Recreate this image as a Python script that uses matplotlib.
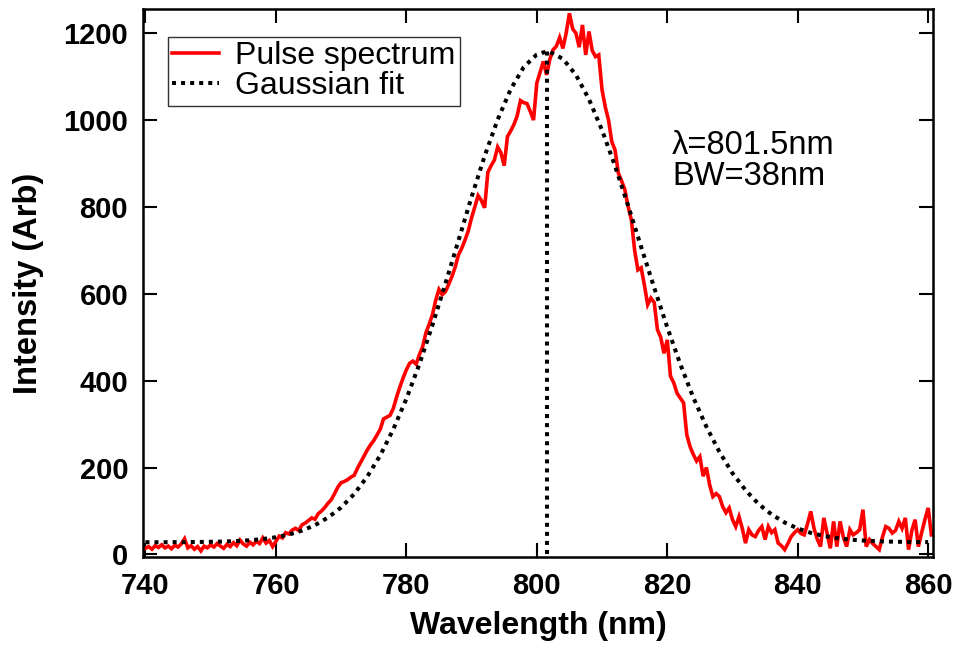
import numpy as np
import matplotlib
matplotlib.use("Agg")
import matplotlib.pyplot as plt

# ---------------- data ----------------
wl_start = 740.0
wl_step = 0.5
pulse_intensity = [
    14, 18, 12, 20, 16, 22, 15, 19, 13, 21, 17, 24, 36, 15, 20, 12, 18, 8, 19, 15,
    22, 17, 25, 19, 14, 23, 18, 27, 20, 33, 24, 19, 28, 22, 30, 25, 38, 26, 32, 18,
    30, 42, 38, 50, 47, 56, 60, 55, 68, 72, 78, 84, 81, 94, 100, 108, 118, 126, 140, 155,
    165, 168, 172, 178, 182, 198, 212, 226, 240, 252, 262, 275, 288, 312, 316, 320, 336, 362, 385, 406,
    425, 440, 445, 438, 460, 478, 510, 530, 552, 585, 610, 598, 605, 622, 640, 662, 690, 705, 724, 745,
    775, 800, 826, 815, 798, 880, 895, 908, 938, 925, 895, 962, 975, 990, 1010, 1045, 1040, 1038, 1020, 1000,
    1085, 1110, 1135, 1104, 1140, 1162, 1170, 1190, 1165, 1200, 1246, 1210, 1200, 1168, 1219, 1150, 1204, 1160, 1146, 1150,
    1070, 1030, 1000, 950, 931, 878, 860, 840, 801, 770, 700, 655, 660, 620, 575, 590, 580, 517, 500, 463,
    494, 410, 395, 371, 360, 349, 275, 248, 230, 215, 225, 180, 200, 160, 133, 140, 133, 110, 96, 107,
    80, 64, 87, 60, 26, 57, 45, 41, 55, 64, 34, 64, 50, 57, 26, 20, 11, 25, 41, 50,
    57, 48, 45, 70, 99, 60, 35, 18, 84, 49, 14, 76, 18, 76, 40, 18, 57, 45, 50, 57,
    103, 18, 34, 25, 18, 11, 40, 64, 60, 49, 55, 76, 60, 84, 11, 55, 80, 18, 50, 80,
    107, 45,
]
pulse_wavelength = wl_start + wl_step * np.arange(len(pulse_intensity))

fit_wavelength = [740, 742, 744, 746, 748, 750, 752, 754, 756, 758, 760, 762, 764, 766, 768,
                  770, 772, 774, 776, 778, 780, 782, 784, 786, 788, 790, 792, 794, 796, 798,
                  800, 801.5, 802, 804, 806, 808, 810, 812, 814, 816, 818, 820, 822, 824, 826,
                  828, 830, 832, 834, 836, 838, 840, 842, 844, 846, 848, 850, 852, 854, 856,
                  858, 860]
fit_intensity = [28, 28, 28.2, 28.3, 28.6, 29.0, 29.6, 30.8, 32.6, 35.3, 39.5, 45.7, 54.7, 67.4, 84.9,
                 108, 139, 179, 228, 288, 358, 438, 528, 624, 723, 823, 917, 1001, 1071, 1122,
                 1151, 1158, 1157, 1141, 1104, 1048, 977, 894, 803, 708, 614, 523, 438, 361, 294,
                 236, 187, 148, 116, 92, 73.5, 59.7, 49.6, 42.5, 37.5, 34.1, 31.9, 30.4, 29.5, 28.9,
                 28.5, 28.3]

center_wl = 801.5
peak_val = 1158
annotation = "λ=801.5nm\nBW=38nm"
x_ticks = [740, 760, 780, 800, 820, 840, 860]
y_ticks = [0, 200, 400, 600, 800, 1000, 1200]

# ---------------- plot ----------------
plt.rcParams['font.family'] = ['Liberation Sans', 'DejaVu Sans']

fig = plt.figure(figsize=(9.59, 6.47), dpi=100)
ax = fig.add_axes([0.1496, 0.1391, 0.8230, 0.8465])

ax.plot(pulse_wavelength, pulse_intensity, color='#ff0000', lw=2.6, label='Pulse spectrum',
        solid_joinstyle='miter')
ax.plot(fit_wavelength, fit_intensity, color='black', lw=2.9, linestyle=(0, (1, 1.25)),
        label='Gaussian fit')
ax.vlines(center_wl, 0, peak_val, color='black', lw=2.9, linestyle=(0, (1, 1.25)))

ax.set_xlim(739.7, 860.7)
ax.set_ylim(-6, 1255)
ax.set_xticks(x_ticks)
ax.set_yticks(y_ticks)
ax.tick_params(direction='in', length=10, width=1.5, top=True, right=True,
               labelsize=21, pad=11)
for lab in ax.get_xticklabels() + ax.get_yticklabels():
    lab.set_fontweight('bold')
for sp in ax.spines.values():
    sp.set_linewidth(1.8)

ax.set_xlabel('Wavelength (nm)', fontsize=23, fontweight='bold', labelpad=8)
ax.set_ylabel('Intensity (Arb)', fontsize=23.5, fontweight='bold', labelpad=14)

ax.text(820.75, 976, annotation, fontsize=23.5, va='top', ha='left', linespacing=1.0)

leg = ax.legend(loc='upper left', bbox_to_anchor=(0.0307, 0.95), borderaxespad=0,
                fontsize=23, frameon=True, fancybox=False, edgecolor='black',
                handlelength=1.45, handletextpad=0.5, labelspacing=0.0, borderpad=0.15)
leg.get_frame().set_linewidth(1.0)

fig.savefig('out.png', dpi=100)
